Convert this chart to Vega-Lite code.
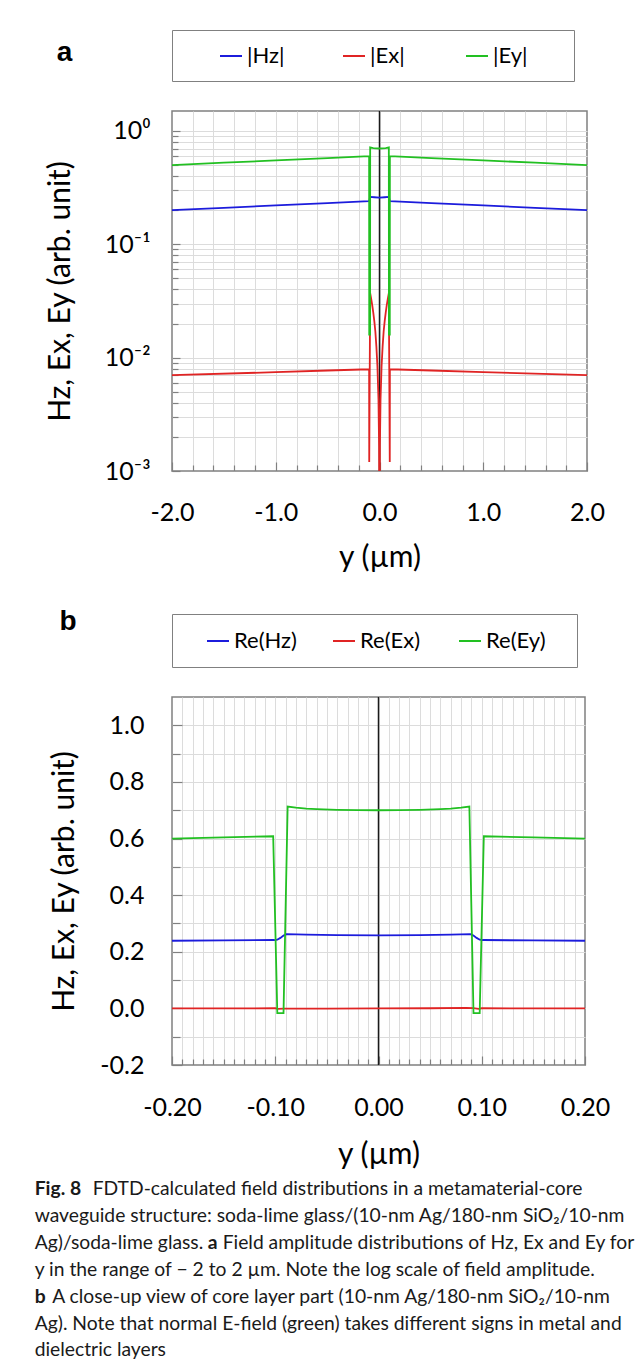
{
  "$schema": "https://vega.github.io/schema/vega-lite/v6.json",
  "padding": {"left": 34, "top": 28, "right": 0, "bottom": 0},
  "spacing": 6,
  "resolve": {"scale": {"color": "independent"}, "legend": {"color": "independent"}},
  "config": {
    "font": "Lato",
    "view": {"stroke": "#808080", "strokeWidth": 1.5},
    "axis": {
      "labelFont": "Lato", "labelFontSize": 25, "labelColor": "#000",
      "titleFont": "Lato", "titleFontSize": 30, "titleFontWeight": "normal", "titleColor": "#000",
      "gridColor": "#dcdcdc", "gridWidth": 1, "tickColor": "#808080", "tickWidth": 1.2,
      "domain": false, "labelFlush": false, "labelOverlap": false, "labelSeparation": -300, "labelBound": false
    },
    "legend": {
      "labelFont": "Lato", "labelFontSize": 22, "labelColor": "#000",
      "symbolType": "stroke", "symbolSize": 484, "symbolStrokeWidth": 2,
      "strokeColor": "#808080", "fillColor": "#ffffff", "labelOffset": 4,
      "direction": "horizontal", "orient": "none", "gridAlign": "all",
      "titleOrient": "left", "titleFontSize": 20, "titleFont": "Lato"
    }
  },
  "datasets": {
    "a": [
      {"pos": -2, "val": 0.2, "series": "|Hz|"},
      {"pos": -1.5, "val": 0.2098, "series": "|Hz|"},
      {"pos": -1, "val": 0.2201, "series": "|Hz|"},
      {"pos": -0.5, "val": 0.231, "series": "|Hz|"},
      {"pos": -0.2, "val": 0.2378, "series": "|Hz|"},
      {"pos": -0.1, "val": 0.24, "series": "|Hz|"},
      {"pos": -0.095, "val": 0.25, "series": "|Hz|"},
      {"pos": -0.09, "val": 0.262, "series": "|Hz|"},
      {"pos": -0.05, "val": 0.26, "series": "|Hz|"},
      {"pos": 0, "val": 0.258, "series": "|Hz|"},
      {"pos": 0.05, "val": 0.26, "series": "|Hz|"},
      {"pos": 0.09, "val": 0.262, "series": "|Hz|"},
      {"pos": 0.095, "val": 0.25, "series": "|Hz|"},
      {"pos": 0.1, "val": 0.24, "series": "|Hz|"},
      {"pos": 0.2, "val": 0.2378, "series": "|Hz|"},
      {"pos": 0.5, "val": 0.231, "series": "|Hz|"},
      {"pos": 1, "val": 0.2201, "series": "|Hz|"},
      {"pos": 1.5, "val": 0.2098, "series": "|Hz|"},
      {"pos": 2, "val": 0.2, "series": "|Hz|"},
      {"pos": -2, "val": 0.007, "series": "|Ex|"},
      {"pos": -1, "val": 0.00745, "series": "|Ex|"},
      {"pos": -0.5, "val": 0.0077, "series": "|Ex|"},
      {"pos": -0.1, "val": 0.0079, "series": "|Ex|"},
      {"pos": -0.099, "val": 0.0012, "series": "|Ex|"},
      {"pos": -0.09, "val": 0.037, "series": "|Ex|"},
      {"pos": -0.08, "val": 0.033, "series": "|Ex|"},
      {"pos": -0.07, "val": 0.029, "series": "|Ex|"},
      {"pos": -0.06, "val": 0.025, "series": "|Ex|"},
      {"pos": -0.05, "val": 0.021, "series": "|Ex|"},
      {"pos": -0.04, "val": 0.017, "series": "|Ex|"},
      {"pos": -0.03, "val": 0.0125, "series": "|Ex|"},
      {"pos": -0.02, "val": 0.0084, "series": "|Ex|"},
      {"pos": -0.01, "val": 0.0043, "series": "|Ex|"},
      {"pos": -0.004, "val": 0.0017, "series": "|Ex|"},
      {"pos": 0, "val": 0.0002, "series": "|Ex|"},
      {"pos": 0.004, "val": 0.0017, "series": "|Ex|"},
      {"pos": 0.01, "val": 0.0043, "series": "|Ex|"},
      {"pos": 0.02, "val": 0.0084, "series": "|Ex|"},
      {"pos": 0.03, "val": 0.0125, "series": "|Ex|"},
      {"pos": 0.04, "val": 0.017, "series": "|Ex|"},
      {"pos": 0.05, "val": 0.021, "series": "|Ex|"},
      {"pos": 0.06, "val": 0.025, "series": "|Ex|"},
      {"pos": 0.07, "val": 0.029, "series": "|Ex|"},
      {"pos": 0.08, "val": 0.033, "series": "|Ex|"},
      {"pos": 0.09, "val": 0.037, "series": "|Ex|"},
      {"pos": 0.099, "val": 0.0012, "series": "|Ex|"},
      {"pos": 0.1, "val": 0.0079, "series": "|Ex|"},
      {"pos": 0.5, "val": 0.0077, "series": "|Ex|"},
      {"pos": 1, "val": 0.00745, "series": "|Ex|"},
      {"pos": 2, "val": 0.007, "series": "|Ex|"},
      {"pos": -2, "val": 0.5, "series": "|Ey|"},
      {"pos": -1.5, "val": 0.5245, "series": "|Ey|"},
      {"pos": -1, "val": 0.55, "series": "|Ey|"},
      {"pos": -0.5, "val": 0.577, "series": "|Ey|"},
      {"pos": -0.2, "val": 0.594, "series": "|Ey|"},
      {"pos": -0.1, "val": 0.6, "series": "|Ey|"},
      {"pos": -0.099, "val": 0.016, "series": "|Ey|"},
      {"pos": -0.091, "val": 0.016, "series": "|Ey|"},
      {"pos": -0.09, "val": 0.715, "series": "|Ey|"},
      {"pos": -0.06, "val": 0.706, "series": "|Ey|"},
      {"pos": -0.03, "val": 0.701, "series": "|Ey|"},
      {"pos": 0, "val": 0.7, "series": "|Ey|"},
      {"pos": 0.03, "val": 0.701, "series": "|Ey|"},
      {"pos": 0.06, "val": 0.706, "series": "|Ey|"},
      {"pos": 0.09, "val": 0.715, "series": "|Ey|"},
      {"pos": 0.091, "val": 0.016, "series": "|Ey|"},
      {"pos": 0.099, "val": 0.016, "series": "|Ey|"},
      {"pos": 0.1, "val": 0.6, "series": "|Ey|"},
      {"pos": 0.2, "val": 0.594, "series": "|Ey|"},
      {"pos": 0.5, "val": 0.577, "series": "|Ey|"},
      {"pos": 1, "val": 0.55, "series": "|Ey|"},
      {"pos": 1.5, "val": 0.5245, "series": "|Ey|"},
      {"pos": 2, "val": 0.5, "series": "|Ey|"}
    ],
    "b": [
      {"pos": -0.2, "val": 0.239, "series": "Re(Hz)"},
      {"pos": -0.15, "val": 0.24, "series": "Re(Hz)"},
      {"pos": -0.101, "val": 0.2415, "series": "Re(Hz)"},
      {"pos": -0.098, "val": 0.2425, "series": "Re(Hz)"},
      {"pos": -0.095, "val": 0.249, "series": "Re(Hz)"},
      {"pos": -0.092, "val": 0.257, "series": "Re(Hz)"},
      {"pos": -0.089, "val": 0.262, "series": "Re(Hz)"},
      {"pos": -0.07, "val": 0.2605, "series": "Re(Hz)"},
      {"pos": -0.04, "val": 0.259, "series": "Re(Hz)"},
      {"pos": 0, "val": 0.258, "series": "Re(Hz)"},
      {"pos": 0.04, "val": 0.259, "series": "Re(Hz)"},
      {"pos": 0.07, "val": 0.2605, "series": "Re(Hz)"},
      {"pos": 0.089, "val": 0.262, "series": "Re(Hz)"},
      {"pos": 0.092, "val": 0.257, "series": "Re(Hz)"},
      {"pos": 0.095, "val": 0.249, "series": "Re(Hz)"},
      {"pos": 0.098, "val": 0.2425, "series": "Re(Hz)"},
      {"pos": 0.101, "val": 0.2415, "series": "Re(Hz)"},
      {"pos": 0.15, "val": 0.24, "series": "Re(Hz)"},
      {"pos": 0.2, "val": 0.239, "series": "Re(Hz)"},
      {"pos": -0.2, "val": 0.0, "series": "Re(Ex)"},
      {"pos": -0.15, "val": 0.0, "series": "Re(Ex)"},
      {"pos": -0.1, "val": 0.0005, "series": "Re(Ex)"},
      {"pos": -0.097, "val": -0.0015, "series": "Re(Ex)"},
      {"pos": -0.092, "val": -0.001, "series": "Re(Ex)"},
      {"pos": -0.05, "val": -0.0005, "series": "Re(Ex)"},
      {"pos": 0, "val": 0.0, "series": "Re(Ex)"},
      {"pos": 0.05, "val": 0.0005, "series": "Re(Ex)"},
      {"pos": 0.085, "val": 0.002, "series": "Re(Ex)"},
      {"pos": 0.092, "val": 0.001, "series": "Re(Ex)"},
      {"pos": 0.097, "val": -0.0015, "series": "Re(Ex)"},
      {"pos": 0.1, "val": 0.0005, "series": "Re(Ex)"},
      {"pos": 0.15, "val": 0.0, "series": "Re(Ex)"},
      {"pos": 0.2, "val": 0.0, "series": "Re(Ex)"},
      {"pos": -0.2, "val": 0.6, "series": "Re(Ey)"},
      {"pos": -0.15, "val": 0.604, "series": "Re(Ey)"},
      {"pos": -0.102, "val": 0.608, "series": "Re(Ey)"},
      {"pos": -0.098, "val": -0.017, "series": "Re(Ey)"},
      {"pos": -0.092, "val": -0.017, "series": "Re(Ey)"},
      {"pos": -0.088, "val": 0.713, "series": "Re(Ey)"},
      {"pos": -0.08, "val": 0.709, "series": "Re(Ey)"},
      {"pos": -0.07, "val": 0.706, "series": "Re(Ey)"},
      {"pos": -0.06, "val": 0.704, "series": "Re(Ey)"},
      {"pos": -0.04, "val": 0.7015, "series": "Re(Ey)"},
      {"pos": -0.02, "val": 0.7003, "series": "Re(Ey)"},
      {"pos": 0, "val": 0.7, "series": "Re(Ey)"},
      {"pos": 0.02, "val": 0.7003, "series": "Re(Ey)"},
      {"pos": 0.04, "val": 0.7015, "series": "Re(Ey)"},
      {"pos": 0.06, "val": 0.704, "series": "Re(Ey)"},
      {"pos": 0.07, "val": 0.706, "series": "Re(Ey)"},
      {"pos": 0.08, "val": 0.709, "series": "Re(Ey)"},
      {"pos": 0.088, "val": 0.713, "series": "Re(Ey)"},
      {"pos": 0.092, "val": -0.017, "series": "Re(Ey)"},
      {"pos": 0.098, "val": -0.017, "series": "Re(Ey)"},
      {"pos": 0.102, "val": 0.608, "series": "Re(Ey)"},
      {"pos": 0.15, "val": 0.604, "series": "Re(Ey)"},
      {"pos": 0.2, "val": 0.6, "series": "Re(Ey)"}
    ],
    "caption": [
      {"line": 1, "k": "b0", "t": "Fig. 8"},
      {"line": 1, "k": "n1", "t": "FDTD-calculated field distributions in a metamaterial-core"},
      {"line": 2, "k": "n0", "t": "waveguide structure: soda-lime glass/(10-nm Ag/180-nm SiO₂/10-nm"},
      {"line": 3, "k": "n0", "t": "Ag)/soda-lime glass."},
      {"line": 3, "k": "b3", "t": "a"},
      {"line": 3, "k": "n3", "t": "Field amplitude distributions of Hz, Ex and Ey for"},
      {"line": 4, "k": "n0", "t": "y in the range of − 2 to 2 µm. Note the log scale of field amplitude."},
      {"line": 5, "k": "b0", "t": "b"},
      {"line": 5, "k": "n5", "t": "A close-up view of core layer part (10-nm Ag/180-nm SiO₂/10-nm"},
      {"line": 6, "k": "n0", "t": "Ag). Note that normal E-field (green) takes different signs in metal and"},
      {"line": 7, "k": "n0", "t": "dielectric layers"}
    ]
  },
  "vconcat": [
    {
      "resolve": {"scale": {"color": "independent"}, "legend": {"color": "independent"}},
      "vconcat": [
        {
          "width": 415,
          "height": 360,
          "encoding": {
            "x": {
              "field": "pos", "type": "quantitative",
              "scale": {"domain": [-2, 2], "nice": false, "zero": false},
              "axis": {
                "title": "y (µm)",
                "values": [-2, -1.8, -1.6, -1.4, -1.2, -1, -0.8, -0.6, -0.4, -0.2, 0, 0.2, 0.4, 0.6, 0.8, 1, 1.2, 1.4, 1.6, 1.8, 2],
                "labelExpr": "abs(datum.value - round(datum.value)) < 0.01 ? (datum.value < 0 ? '-' : '') + format(abs(datum.value), '.1f') : ''",
                "labelOverlap": false,
                "labelSeparation": -300,
                "grid": true,
                "gridOpacity": {"condition": {"test": "abs(datum.value) > 1.999", "value": 0}, "value": 1},
                "tickSize": {"condition": {"test": "abs(datum.value - round(datum.value)) < 0.01", "value": -9}, "value": -6},
                "labelPadding": 38,
                "titlePadding": 14
              }
            },
            "y": {
              "field": "val", "type": "quantitative",
              "scale": {"type": "log", "domain": [0.001, 1.5], "nice": false},
              "axis": {
                "title": "Hz, Ex, Ey (arb. unit)",
                "values": [0.001, 0.002, 0.003, 0.004, 0.005, 0.006, 0.007, 0.008, 0.009, 0.01, 0.02, 0.03, 0.04, 0.05, 0.06, 0.07, 0.08, 0.09, 0.1, 0.2, 0.3, 0.4, 0.5, 0.6, 0.7, 0.8, 0.9, 1],
                "labelExpr": "datum.value == 1 ? '10⁰' : datum.value == 0.1 ? '10⁻¹' : datum.value == 0.01 ? '10⁻²' : datum.value == 0.001 ? '10⁻³' : ''",
                "labelOverlap": false,
                "grid": true,
                "gridOpacity": {"condition": {"test": "datum.value < 0.0011", "value": 0}, "value": 1},
                "tickSize": {"condition": {"test": "datum.value == 1 || datum.value == 0.1 || datum.value == 0.01 || datum.value == 0.001", "value": -8}, "value": -6},
                "labelPadding": 30,
                "titlePadding": 29
              }
            }
          },
          "layer": [
            {
              "data": {"values": [{"pos": 0}]},
              "mark": {"type": "rule", "color": "#1a1a1a", "strokeWidth": 1.5},
              "encoding": {"y": null}
            },
            {
              "data": {"name": "a"},
              "mark": {"type": "line", "strokeWidth": 1.8, "clip": true},
              "encoding": {
                "color": {
                  "field": "series", "type": "nominal",
                  "scale": {"domain": ["|Hz|", "|Ex|", "|Ey|"], "range": ["#1c1cdc", "#e02424", "#22c022"]},
                  "legend": {
                    "title": "\u2800",
                    "titlePadding": 18,
                    "legendX": 0, "legendY": -81,
                    "padding": 14,
                    "columnPadding": 22,
                    "labelExpr": "datum.label + '\u2800\u2800'"
                  }
                }
              }
            },
            {
              "data": {"values": [{"pos": -3.11, "val": 4.12, "t": "a"}]},
              "mark": {"type": "text", "align": "left", "baseline": "alphabetic", "font": "Liberation Sans", "fontSize": 28, "fontWeight": "bold", "color": "#000"},
              "encoding": {"text": {"field": "t"}}
            }
          ]
        },
        {
          "width": 413,
          "height": 368,
          "encoding": {
            "x": {
              "field": "pos", "type": "quantitative",
              "scale": {"domain": [-0.2, 0.2], "nice": false, "zero": false},
              "axis": {
                "title": "y (µm)",
                "values": [-0.2, -0.19, -0.18, -0.17, -0.16, -0.15, -0.14, -0.13, -0.12, -0.11, -0.1, -0.09, -0.08, -0.07, -0.06, -0.05, -0.04, -0.03, -0.02, -0.01, 0, 0.01, 0.02, 0.03, 0.04, 0.05, 0.06, 0.07, 0.08, 0.09, 0.1, 0.11, 0.12, 0.13, 0.14, 0.15, 0.16, 0.17, 0.18, 0.19, 0.2],
                "labelExpr": "abs(datum.value * 10 - round(datum.value * 10)) < 0.01 ? (datum.value < -0.001 ? '-' : '') + format(abs(datum.value), '.2f') : ''",
                "labelOverlap": false,
                "labelSeparation": -300,
                "grid": true,
                "gridOpacity": {"condition": {"test": "abs(datum.value) > 0.1999", "value": 0}, "value": 1},
                "tickSize": {"condition": {"test": "abs(datum.value * 10 - round(datum.value * 10)) < 0.01", "value": -9}, "value": -6},
                "labelPadding": 39,
                "titlePadding": 16
              }
            },
            "y": {
              "field": "val", "type": "quantitative",
              "scale": {"domain": [-0.2, 1.1], "nice": false, "zero": false},
              "axis": {
                "title": "Hz, Ex, Ey (arb. unit)",
                "values": [-0.2, -0.1, 0, 0.1, 0.2, 0.3, 0.4, 0.5, 0.6, 0.7, 0.8, 0.9, 1.0],
                "labelExpr": "abs(datum.value * 5 - round(datum.value * 5)) < 0.01 ? (datum.value < -0.001 ? '-' : '') + format(abs(datum.value), '.1f') : ''",
                "labelOverlap": false,
                "grid": true,
                "gridOpacity": {"condition": {"test": "datum.value < -0.199", "value": 0}, "value": 1},
                "tickSize": {"condition": {"test": "abs(datum.value * 5 - round(datum.value * 5)) < 0.01", "value": -10}, "value": -8},
                "labelPadding": 38,
                "titlePadding": 20
              }
            }
          },
          "layer": [
            {
              "data": {"values": [{"pos": 0}]},
              "mark": {"type": "rule", "color": "#1a1a1a", "strokeWidth": 1.5},
              "encoding": {"y": null}
            },
            {
              "data": {"name": "b"},
              "mark": {"type": "line", "strokeWidth": 1.8, "clip": true},
              "encoding": {
                "color": {
                  "field": "series", "type": "nominal",
                  "scale": {"domain": ["Re(Hz)", "Re(Ex)", "Re(Ey)"], "range": ["#1c1cdc", "#e02424", "#22c022"]},
                  "legend": {
                    "title": "\u2800",
                    "titlePadding": 4,
                    "legendX": 0, "legendY": -83,
                    "padding": 15,
                    "columnPadding": 16,
                    "labelExpr": "datum.label + '\u2800'"
                  }
                }
              }
            },
            {
              "data": {"values": [{"pos": -0.309, "val": 1.335, "t": "b"}]},
              "mark": {"type": "text", "align": "left", "baseline": "alphabetic", "font": "Liberation Sans", "fontSize": 28, "fontWeight": "bold", "color": "#000"},
              "encoding": {"text": {"field": "t"}}
            }
          ]
        }
      ],
      "spacing": 34
    },
    {
      "width": 592,
      "height": 190,
      "view": {"stroke": null},
      "data": {"name": "caption"},
      "encoding": {
        "y": {"field": "line", "type": "quantitative", "scale": {"domain": [0.295, 7.355], "reverse": true}, "axis": null},
        "x": {"datum": 0, "type": "quantitative", "scale": {"domain": [0.232, 1.232]}, "axis": null},
        "text": {"field": "t"}
      },
      "layer": [
        {"transform": [{"filter": "datum.k == 'n0'"}], "mark": {"type": "text", "align": "left", "baseline": "alphabetic", "font": "Lato", "fontSize": 19.3, "color": "#1a1a1a"}},
        {"transform": [{"filter": "datum.k == 'b0'"}], "mark": {"type": "text", "align": "left", "baseline": "alphabetic", "font": "Lato", "fontSize": 19.3, "fontWeight": "bold", "color": "#1a1a1a"}},
        {"transform": [{"filter": "datum.k == 'n1'"}], "mark": {"type": "text", "align": "left", "baseline": "alphabetic", "font": "Lato", "fontSize": 19.3, "color": "#1a1a1a", "dx": 58}},
        {"transform": [{"filter": "datum.k == 'b3'"}], "mark": {"type": "text", "align": "left", "baseline": "alphabetic", "font": "Lato", "fontSize": 19.3, "fontWeight": "bold", "color": "#1a1a1a", "dx": 173}},
        {"transform": [{"filter": "datum.k == 'n3'"}], "mark": {"type": "text", "align": "left", "baseline": "alphabetic", "font": "Lato", "fontSize": 19.3, "color": "#1a1a1a", "dx": 188}},
        {"transform": [{"filter": "datum.k == 'n5'"}], "mark": {"type": "text", "align": "left", "baseline": "alphabetic", "font": "Lato", "fontSize": 19.3, "color": "#1a1a1a", "dx": 17.5}}
      ]
    }
  ]
}
